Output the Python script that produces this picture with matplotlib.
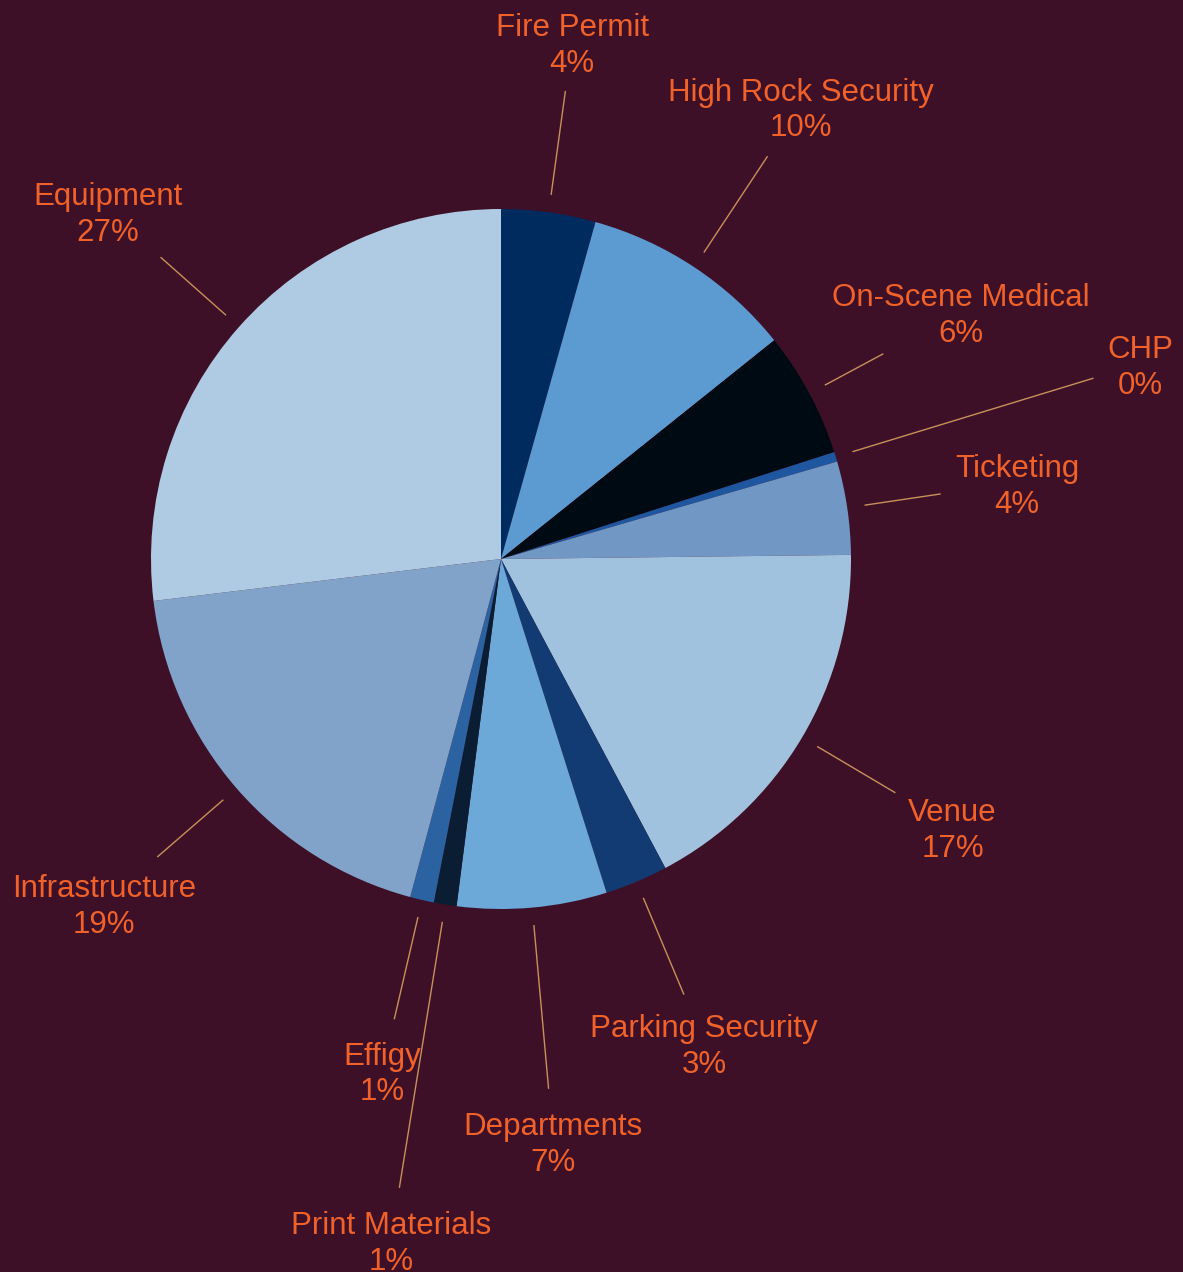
import numpy as np
import matplotlib
matplotlib.use("Agg")
import matplotlib.pyplot as plt
import matplotlib.transforms as mtransforms

plt.rcParams['font.family'] = ['Liberation Sans', 'DejaVu Sans']

# budget share per item (clockwise from 12 o'clock)
labels = ['Fire Permit', 'High Rock Security', 'On-Scene Medical', 'CHP', 'Ticketing',
          'Venue', 'Parking Security', 'Departments', 'Print Materials', 'Effigy',
          'Infrastructure', 'Equipment']
values = [4.35, 9.9, 5.8, 0.45, 4.3, 17.4, 2.9, 6.9, 1.05, 1.1, 18.9, 26.9]
colors = ['#002b5f', '#5b9bd1', '#000a12', '#1f56a0', '#7198c4', '#a1c2de',
          '#113b72', '#6ca8d8', '#0b1d33', '#2a62a2', '#81a3ca', '#afcbe3']

# label placement (in pie radii): where the text sits and where its leader line stops
label_r = [1.49, 1.55, 1.49, 1.91, 1.49, 1.50, 1.50, 1.67, 1.97, 1.50, 1.50, 1.50]
line_end = [1.35, 1.38, 1.24, 1.77, 1.27, 1.31, 1.35, 1.52, 1.82, 1.35, 1.30, 1.30]

bg = '#3e1027'
txt_col = '#f0622a'
line_col = '#c8905a'

fig = plt.figure(figsize=(11.83, 12.72), dpi=100, facecolor=bg)
ax = fig.add_axes([0, 0, 1, 1])
ax.set_facecolor(bg)

wedges, _ = ax.pie(values, colors=colors, startangle=90, counterclock=False,
                   radius=1.0, wedgeprops=dict(linewidth=0))

# nudge labels down a few pixels so they sit like the original
nudge = ax.transData + mtransforms.ScaledTranslation(0, -4 / 100, fig.dpi_scale_trans)

total = sum(values)
for w, lab, v, lr, le in zip(wedges, labels, values, label_r, line_end):
    mid = np.deg2rad((w.theta1 + w.theta2) / 2)
    c, s = np.cos(mid), np.sin(mid)
    ax.plot([1.05 * c, le * c], [1.05 * s, le * s],
            color=line_col, lw=1.0, solid_capstyle='butt')
    ax.text(lr * c, lr * s, f'{lab}\n{round(100 * v / total)}%', color=txt_col,
            fontsize=22.5, ha='center', va='center', linespacing=1.25,
            transform=nudge)

ax.set_aspect('equal')
ax.set_xlim(-501 / 350, (1183 - 501) / 350)
ax.set_ylim(-(1272 - 559) / 350, 559 / 350)
ax.axis('off')

fig.savefig('out.png', dpi=100, facecolor=bg)
